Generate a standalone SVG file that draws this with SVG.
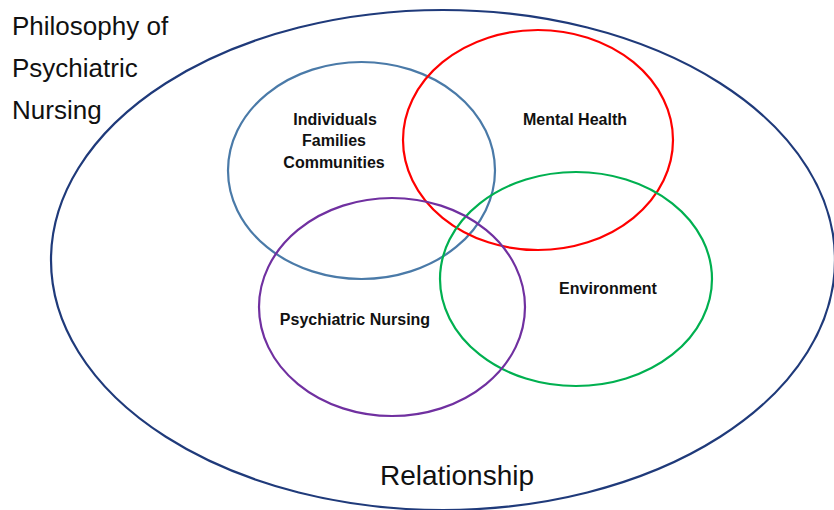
<svg xmlns="http://www.w3.org/2000/svg" width="834" height="510" viewBox="0 0 834 510">
<style>
.ring{fill:none;stroke-width:2.2}
.lab{font-family:"Liberation Sans",Arial,sans-serif;font-size:16px;font-weight:bold;fill:#111;text-anchor:middle}
.big{font-family:"Liberation Sans",Arial,sans-serif;font-size:26px;fill:#111}
</style>
<rect width="834" height="510" fill="#fff"/>
<g id="philosophy">
<ellipse class="ring" cx="443" cy="260" rx="392" ry="250" stroke="#1f3a7a"/>
<text class="big" x="12" y="35">Philosophy of</text>
<text class="big" x="12" y="77">Psychiatric</text>
<text class="big" x="12" y="119">Nursing</text>
<text class="big" x="457" y="485" text-anchor="middle" style="font-size:28px">Relationship</text>
</g>
<g id="individuals">
<ellipse class="ring" cx="361.5" cy="170.5" rx="133.5" ry="108.5" stroke="#4a7aa8"/>
<text class="lab" x="335" y="125">Individuals</text>
<text class="lab" x="334" y="146">Families</text>
<text class="lab" x="334" y="168">Communities</text>
</g>
<g id="mental-health">
<ellipse class="ring" cx="538" cy="140" rx="135" ry="110" stroke="#ff0000"/>
<text class="lab" x="575" y="125">Mental Health</text>
</g>
<g id="environment">
<ellipse class="ring" cx="576" cy="279" rx="136" ry="107" stroke="#00b050"/>
<text class="lab" x="608" y="294">Environment</text>
</g>
<g id="psychiatric-nursing">
<ellipse class="ring" cx="392" cy="307" rx="133" ry="109" stroke="#7030a0"/>
<text class="lab" x="355" y="325">Psychiatric Nursing</text>
</g>
<g id="connectors"/>
</svg>
